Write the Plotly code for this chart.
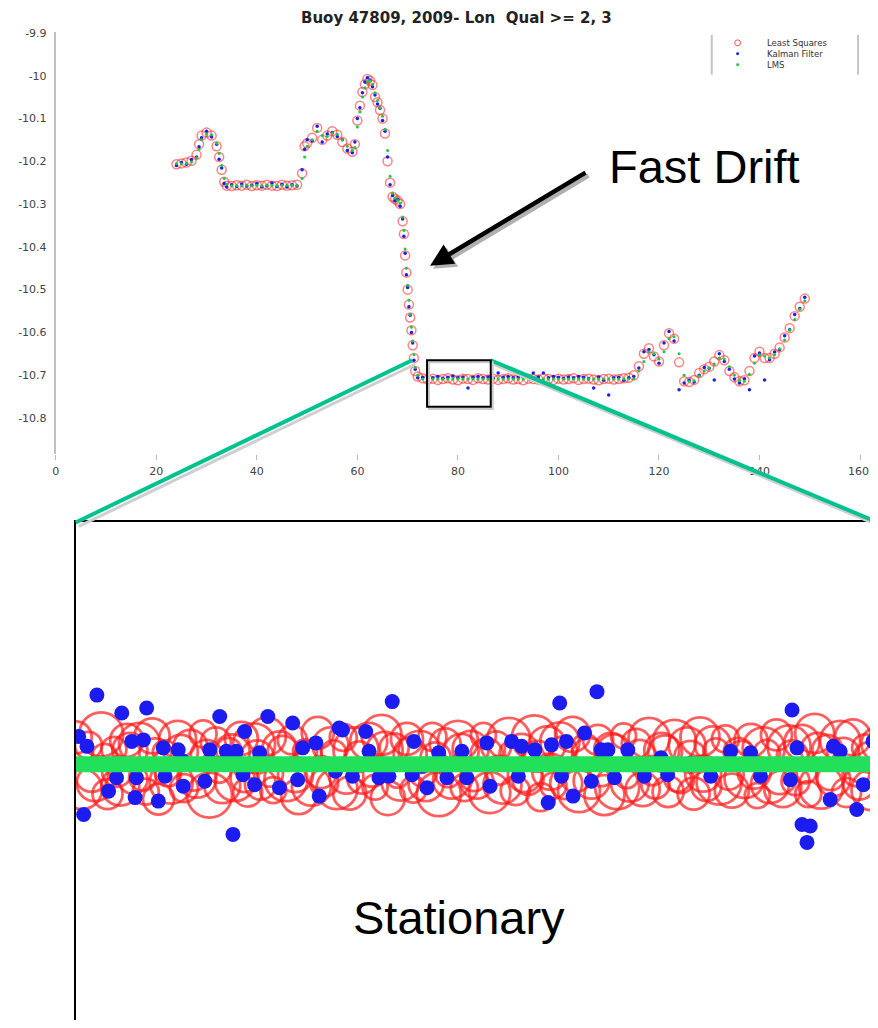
import plotly.graph_objects as go

# ---------------- data ----------------
main_t = [24, 25, 26, 27, 28, 28.5, 29, 30, 31, 32, 32.5, 33, 33.5, 34, 35, 36, 37, 38, 39, 40,
          41, 42, 43, 44, 45, 46, 47, 48, 49, 49.5, 50, 51, 52, 53, 54, 55, 56, 57, 58, 59,
          59.5, 60, 60.5, 61, 61.5, 62, 62.5, 63, 63.5, 64, 64.5, 65, 65.5, 66, 66.5, 67, 67.5, 68, 68.5, 69,
          69.25, 69.5, 69.75, 70, 70.25, 70.5, 70.75, 71, 71.25, 71.5, 72,
          73, 74, 75, 76, 77, 78, 79, 80, 81, 82, 83, 84, 85, 86, 87, 88, 89, 90, 91, 92,
          93, 94, 95, 96, 97, 98, 99, 100, 101, 102, 103, 104, 105, 106, 107, 108, 109, 110, 111, 112,
          113, 114, 115, 116, 117, 118, 119, 120, 121, 122, 123, 124, 125, 126, 127, 128, 129, 130, 131, 132,
          133, 134, 135, 136, 137, 138, 139, 140, 141, 142, 143, 144, 145, 146, 147, 148, 149]

least_squares = [-10.207, -10.205, -10.203, -10.199, -10.185, -10.160, -10.140, -10.133, -10.140, -10.165,
                 -10.190, -10.220, -10.248, -10.257, -10.258, -10.256, -10.257, -10.255, -10.258, -10.256,
                 -10.257, -10.255, -10.257, -10.258, -10.255, -10.257, -10.256, -10.255, -10.228, -10.165,
                 -10.158, -10.145, -10.122, -10.150, -10.140, -10.130, -10.138, -10.155, -10.170, -10.178,
                 -10.160, -10.105, -10.070, -10.038, -10.020, -10.008, -10.012, -10.022, -10.050, -10.062,
                 -10.080, -10.100, -10.135, -10.200, -10.250, -10.283, -10.288, -10.292, -10.300, -10.340,
                 -10.370, -10.420, -10.460, -10.500, -10.535, -10.565, -10.595, -10.630, -10.660, -10.690, -10.703,
                 -10.707, -10.710, -10.708, -10.711, -10.709, -10.707, -10.710, -10.712, -10.708, -10.709,
                 -10.711, -10.707, -10.709, -10.710, -10.708, -10.711, -10.709, -10.707, -10.710, -10.709,
                 -10.712, -10.708, -10.709, -10.710, -10.707, -10.709, -10.711, -10.708, -10.710, -10.709,
                 -10.707, -10.711, -10.709, -10.708, -10.710, -10.712, -10.709, -10.708, -10.710, -10.709,
                 -10.707, -10.706, -10.700,
                 -10.679, -10.650, -10.637, -10.656, -10.668, -10.630, -10.602, -10.615, -10.670, -10.714,
                 -10.716, -10.711, -10.695, -10.686, -10.680, -10.668, -10.653, -10.665, -10.690, -10.705,
                 -10.714, -10.712, -10.690, -10.660, -10.645, -10.660, -10.660, -10.650, -10.635, -10.612,
                 -10.590, -10.562, -10.540, -10.521]

kalman = [-10.210, -10.203, -10.207, -10.196, -10.190, -10.166, -10.145, -10.130, -10.143, -10.160,
          -10.195, -10.216, -10.252, -10.260, -10.255, -10.259, -10.253, -10.258, -10.256, -10.252,
          -10.260, -10.257, -10.251, -10.259, -10.254, -10.260, -10.255, -10.258, -10.220, -10.172,
          -10.150, -10.152, -10.118, -10.155, -10.136, -10.133, -10.142, -10.150, -10.175, -10.180,
          -10.155, -10.100, -10.075, -10.040, -10.015, -10.005, -10.010, -10.026, -10.045, -10.066,
          -10.076, -10.105, -10.130, -10.190, -10.255, -10.280, -10.292, -10.289, -10.305, -10.335,
          -10.375, -10.415, -10.465, -10.495, -10.540, -10.560, -10.600, -10.625, -10.665, -10.686, -10.706,
          -10.705, -10.704, -10.706, -10.703, -10.707, -10.705, -10.702, -10.706, -10.704, -10.730,
          -10.705, -10.703, -10.706, -10.704, -10.707, -10.695, -10.705, -10.703, -10.706, -10.704,
          -10.705, -10.707, -10.695, -10.704, -10.695, -10.706, -10.703, -10.705, -10.707, -10.704,
          -10.706, -10.703, -10.705, -10.708, -10.730, -10.704, -10.712, -10.746, -10.706, -10.705,
          -10.712, -10.706, -10.703,
          -10.683, -10.645, -10.640, -10.652, -10.672, -10.625, -10.598, -10.620, -10.734, -10.718,
          -10.712, -10.716, -10.700, -10.682, -10.684, -10.711, -10.650, -10.668, -10.686, -10.709,
          -10.718, -10.708, -10.734, -10.655, -10.648, -10.711, -10.664, -10.646, -10.640, -10.608,
          -10.594, -10.558, -10.544, -10.518]

lms = [-10.205, -10.206, -10.205, -10.202, -10.192, -10.172, -10.150, -10.136, -10.138, -10.158,
       -10.182, -10.210, -10.240, -10.254, -10.257, -10.257, -10.257, -10.256, -10.257, -10.256,
       -10.257, -10.256, -10.256, -10.257, -10.256, -10.256, -10.256, -10.256, -10.240, -10.190,
       -10.165, -10.150, -10.130, -10.140, -10.142, -10.134, -10.137, -10.150, -10.165, -10.175,
       -10.168, -10.120, -10.085, -10.050, -10.028, -10.014, -10.012, -10.020, -10.040, -10.058,
       -10.075, -10.095, -10.125, -10.175, -10.235, -10.275, -10.286, -10.291, -10.298, -10.330,
       -10.362, -10.405, -10.450, -10.490, -10.525, -10.558, -10.588, -10.620, -10.652, -10.682, -10.700,
       -10.709, -10.709, -10.709, -10.709, -10.709, -10.709, -10.709, -10.709, -10.709, -10.709,
       -10.709, -10.709, -10.709, -10.709, -10.709, -10.709, -10.709, -10.709, -10.709, -10.709,
       -10.709, -10.709, -10.709, -10.709, -10.709, -10.709, -10.709, -10.709, -10.709, -10.709,
       -10.709, -10.709, -10.709, -10.709, -10.709, -10.709, -10.709, -10.709, -10.709, -10.709,
       -10.709, -10.709, -10.708,
       -10.690, -10.668, -10.645, -10.650, -10.662, -10.645, -10.615, -10.610, -10.650, -10.700,
       -10.714, -10.713, -10.702, -10.690, -10.683, -10.674, -10.660, -10.662, -10.680, -10.700,
       -10.712, -10.714, -10.698, -10.672, -10.652, -10.655, -10.660, -10.652, -10.638, -10.618,
       -10.595, -10.570, -10.546, -10.526]

# magnified stationary window: finer samples
zoom_ls_t = [74.0, 74.1, 74.2, 74.3, 74.4, 74.5, 74.6, 74.7, 74.8, 74.9,
             75.0, 75.1, 75.2, 75.3, 75.4, 75.5, 75.6, 75.7, 75.8, 75.9,
             76.0, 76.1, 76.2, 76.3, 76.4, 76.5, 76.6, 76.7, 76.8, 76.9,
             77.0, 77.1, 77.2, 77.3, 77.4, 77.5, 77.6, 77.7, 77.8, 77.9,
             78.0, 78.1, 78.2, 78.3, 78.4, 78.5, 78.6, 78.7, 78.8, 78.9,
             79.0, 79.1, 79.2, 79.3, 79.4, 79.5, 79.6, 79.7, 79.8, 79.9,
             80.0, 80.1, 80.2, 80.3, 80.4, 80.5, 80.6, 80.7, 80.8, 80.9,
             81.0, 81.1, 81.2, 81.3, 81.4, 81.5, 81.6, 81.7, 81.8, 81.9,
             82.0, 82.1, 82.2, 82.3, 82.4, 82.5, 82.6, 82.7, 82.8, 82.9,
             83.0, 83.1, 83.2, 83.3, 83.4, 83.5, 83.6, 83.7, 83.8, 83.9,
             84.0, 84.1, 84.2, 84.3, 84.4, 84.5, 84.6, 84.7, 84.8, 84.9,
             85.0, 85.1, 85.2, 85.3, 85.4, 85.5, 85.6, 85.7, 85.8, 85.9,
             86.0, 86.1, 86.2, 86.3, 86.4, 86.5, 86.6]
zoom_ls = [-10.7036, -10.7140, -10.7052, -10.7128, -10.7030, -10.7150, -10.7060, -10.7135, -10.7042, -10.7120,
           -10.7048, -10.7145, -10.7033, -10.7160, -10.7066, -10.7126, -10.7040, -10.7138, -10.7055, -10.7118,
           -10.7029, -10.7152, -10.7046, -10.7132, -10.7062, -10.7124, -10.7038, -10.7146, -10.7050, -10.7130,
           -10.7034, -10.7142, -10.7058, -10.7121, -10.7041, -10.7155, -10.7064, -10.7134, -10.7027, -10.7127,
           -10.7052, -10.7139, -10.7036, -10.7148, -10.7061, -10.7119, -10.7044, -10.7136, -10.7031, -10.7158,
           -10.7057, -10.7125, -10.7039, -10.7141, -10.7065, -10.7129, -10.7035, -10.7150, -10.7049, -10.7122,
           -10.7043, -10.7137, -10.7059, -10.7126, -10.7032, -10.7147, -10.7054, -10.7131, -10.7040, -10.7143,
           -10.7063, -10.7120, -10.7037, -10.7156, -10.7051, -10.7133, -10.7045, -10.7128, -10.7030, -10.7144,
           -10.7056, -10.7123, -10.7041, -10.7152, -10.7060, -10.7136, -10.7033, -10.7127, -10.7048, -10.7140,
           -10.7038, -10.7131, -10.7062, -10.7145, -10.7044, -10.7122, -10.7053, -10.7149, -10.7035, -10.7134,
           -10.7050, -10.7126, -10.7039, -10.7143, -10.7066, -10.7118, -10.7042, -10.7153, -10.7058, -10.7130,
           -10.7031, -10.7139, -10.7055, -10.7124, -10.7046, -10.7150, -10.7028, -10.7135, -10.7061, -10.7121,
           -10.7043, -10.7147, -10.7036, -10.7129, -10.7057, -10.7141, -10.7049]
zoom_ls_err = [0.0032, 0.0040, 0.0027, 0.0036, 0.0044, 0.0030, 0.0025, 0.0038, 0.0033, 0.0029,
               0.0041, 0.0026, 0.0035, 0.0031, 0.0024, 0.0043, 0.0037, 0.0028, 0.0034, 0.0039,
               0.0027, 0.0045, 0.0030, 0.0036, 0.0025, 0.0040, 0.0033, 0.0029, 0.0042, 0.0031,
               0.0038, 0.0026, 0.0034, 0.0043, 0.0029, 0.0035, 0.0024, 0.0039, 0.0032, 0.0028,
               0.0036, 0.0041, 0.0027, 0.0033, 0.0045, 0.0030, 0.0037, 0.0025, 0.0040, 0.0034,
               0.0029, 0.0038, 0.0032, 0.0026, 0.0042, 0.0035, 0.0028, 0.0044, 0.0031, 0.0037,
               0.0040, 0.0027, 0.0036, 0.0033, 0.0025, 0.0041, 0.0030, 0.0038, 0.0043, 0.0029,
               0.0034, 0.0031, 0.0045, 0.0028, 0.0037, 0.0026, 0.0039, 0.0032, 0.0035, 0.0042,
               0.0027, 0.0036, 0.0030, 0.0040, 0.0033, 0.0044, 0.0025, 0.0038, 0.0029, 0.0034,
               0.0041, 0.0028, 0.0035, 0.0031, 0.0043, 0.0026, 0.0037, 0.0032, 0.0039, 0.0030,
               0.0036, 0.0045, 0.0027, 0.0034, 0.0029, 0.0040, 0.0033, 0.0025, 0.0042, 0.0038,
               0.0031, 0.0037, 0.0043, 0.0028, 0.0035, 0.0026, 0.0039, 0.0044, 0.0030, 0.0033,
               0.0040, 0.0029, 0.0036, 0.0032, 0.0027, 0.0041, 0.0034]

zoom_ls_mid_t = [74.05, 74.25, 74.45, 74.65, 74.85, 75.05, 75.25, 75.45, 75.65, 75.85,
                 76.05, 76.25, 76.45, 76.65, 76.85, 77.05, 77.25, 77.45, 77.65, 77.85,
                 78.05, 78.25, 78.45, 78.65, 78.85, 79.05, 79.25, 79.45, 79.65, 79.85,
                 80.05, 80.25, 80.45, 80.65, 80.85, 81.05, 81.25, 81.45, 81.65, 81.85,
                 82.05, 82.25, 82.45, 82.65, 82.85, 83.05, 83.25, 83.45, 83.65, 83.85,
                 84.05, 84.25, 84.45, 84.65, 84.85, 85.05, 85.25, 85.45, 85.65, 85.85,
                 86.05, 86.25, 86.45]
zoom_ls_mid = [-10.7068, -10.7112, -10.7074, -10.7105, -10.7062, -10.7116, -10.7070, -10.7108, -10.7065, -10.7114,
               -10.7072, -10.7103, -10.7066, -10.7118, -10.7075, -10.7109, -10.7063, -10.7111, -10.7071, -10.7106,
               -10.7067, -10.7115, -10.7073, -10.7104, -10.7061, -10.7113, -10.7069, -10.7107, -10.7076, -10.7110,
               -10.7064, -10.7117, -10.7070, -10.7102, -10.7068, -10.7112, -10.7074, -10.7105, -10.7062, -10.7116,
               -10.7070, -10.7108, -10.7065, -10.7114, -10.7072, -10.7103, -10.7066, -10.7118, -10.7075, -10.7109,
               -10.7063, -10.7111, -10.7071, -10.7106, -10.7067, -10.7115, -10.7073, -10.7104, -10.7061, -10.7113,
               -10.7069, -10.7107, -10.7076]
zoom_ls_mid_err = [0.0028, 0.0033, 0.0025, 0.0030, 0.0035, 0.0027, 0.0032, 0.0026, 0.0034, 0.0029,
                   0.0031, 0.0024, 0.0036, 0.0028, 0.0033, 0.0026, 0.0030, 0.0035, 0.0027, 0.0032,
                   0.0025, 0.0034, 0.0029, 0.0031, 0.0036, 0.0024, 0.0033, 0.0028, 0.0030, 0.0026,
                   0.0035, 0.0027, 0.0032, 0.0029, 0.0025, 0.0034, 0.0031, 0.0036, 0.0028, 0.0030,
                   0.0033, 0.0026, 0.0035, 0.0024, 0.0031, 0.0029, 0.0034, 0.0027, 0.0032, 0.0036,
                   0.0025, 0.0030, 0.0028, 0.0033, 0.0026, 0.0035, 0.0031, 0.0024, 0.0034, 0.0029,
                   0.0032, 0.0027, 0.0030]

zoom_kf_t = [74.333, 74.723, 75.114, 76.261, 77.016, 76.652, 77.406, 78.136, 74.047, 74.177,
             74.880, 75.063, 75.375, 75.609, 76.105, 76.364, 76.520, 76.886, 77.563, 77.770,
             74.516, 74.125, 74.933, 75.297, 75.688, 76.027, 76.808, 77.198, 77.484, 77.823,
             76.469, 74.641, 74.953, 75.402, 76.625, 78.078,
             78.969, 81.598, 82.183, 78.188, 78.552, 79.308, 80.453, 80.844, 81.000, 81.208,
             81.469, 81.703, 81.989, 78.605, 79.698, 80.063, 82.250, 78.344, 78.761, 78.917,
             79.516, 79.828, 80.141, 80.505, 80.948, 81.417, 81.625, 81.808, 82.094, 79.281,
             85.245, 82.355, 82.667, 83.188, 84.281, 84.594, 85.323, 85.895, 86.000, 82.458,
             82.927, 83.292, 83.969, 84.750, 85.219, 85.844, 86.261, 86.364, 85.402, 85.531,
             85.480, 86.516, 75.688, 79.438, 83.656]
zoom_kf = [-10.6951, -10.6987, -10.6977, -10.6994, -10.6994, -10.7024, -10.7007, -10.7017, -10.7034, -10.7054,
           -10.7044, -10.7041, -10.7057, -10.7061, -10.7061, -10.7064, -10.7064, -10.7067, -10.7057, -10.7047,
           -10.7144, -10.7191, -10.7157, -10.7164, -10.7134, -10.7124, -10.7131, -10.7137, -10.7121, -10.7154,
           -10.7231, -10.7117, -10.7117, -10.7114, -10.7111, -10.7104,
           -10.6964, -10.6967, -10.6944, -10.7021, -10.7024, -10.7044, -10.7047, -10.7044, -10.7054, -10.7061,
           -10.7051, -10.7044, -10.7027, -10.7064, -10.7067, -10.7064, -10.7061, -10.7114, -10.7117, -10.7114,
           -10.7137, -10.7117, -10.7117, -10.7134, -10.7114, -10.7167, -10.7114, -10.7154, -10.7124, -10.7111,
           -10.6981, -10.7061, -10.7061, -10.7077, -10.7064, -10.7067, -10.7057, -10.7054, -10.7064, -10.7117,
           -10.7114, -10.7111, -10.7114, -10.7114, -10.7121, -10.7161, -10.7181, -10.7131, -10.7211, -10.7214,
           -10.7247, -10.7044, -10.7084, -10.7094, -10.7088]

x_ticks = [0, 20, 40, 60, 80, 100, 120, 140, 160]
y_ticks = [-9.9, -10.0, -10.1, -10.2, -10.3, -10.4, -10.5, -10.6, -10.7, -10.8]
y_ticktext = ["-9.9", "-10", "-10.1", "-10.2", "-10.3", "-10.4", "-10.5", "-10.6", "-10.7", "-10.8"]
legend_names = ["Least Squares", "Kalman Filter", "LMS"]
title_text = "Buoy 47809, 2009- Lon  Qual >= 2, 3"
window_t = [73.86, 86.53]
window_lon = [-10.774, -10.665]

# ---------------- layout helpers ----------------
# the page body adds an 8px margin on every side; the figure is sized so the
# page does not overflow, and every position below is given in window pixels
OFF = 8
W, H = 878 - 2 * OFF, 1028 - 2 * OFF
FONT = "Liberation Sans, Arial, sans-serif"
SMALL = "DejaVu Sans, sans-serif"
RED = "#ff1a1a"
BLUE = "#1c1cf0"
GREEN = "#22e05a"
TEAL = "#00c28f"


def px(x):
    return (x - OFF) / W


def py(y):
    return 1 - (y - OFF) / H


ZOOM_TOP, ZOOM_BOTTOM = 520, 1020
zoom_xrange = [74.0, 86.469]
zoom_yrange = [-10.7604, -10.6604]
px_per_lon = (ZOOM_BOTTOM - ZOOM_TOP) / (zoom_yrange[1] - zoom_yrange[0])

fig = go.Figure()

# main panel
fig.add_trace(go.Scatter(x=main_t, y=least_squares, mode="markers", name=legend_names[0],
                         marker=dict(symbol="circle-open", size=9, color="rgba(255,30,30,0.55)",
                                     line=dict(width=1.5)),
                         xaxis="x", yaxis="y", showlegend=False))
fig.add_trace(go.Scatter(x=main_t, y=kalman, mode="markers", name=legend_names[1],
                         marker=dict(size=3.5, color=BLUE), xaxis="x", yaxis="y", showlegend=False))
fig.add_trace(go.Scatter(x=main_t, y=lms, mode="markers", name=legend_names[2],
                         marker=dict(size=3, color="#10d040"), xaxis="x", yaxis="y", showlegend=False))

# zoom panel
fig.add_trace(go.Scatter(x=zoom_ls_mid_t, y=zoom_ls_mid, mode="markers", showlegend=False,
                         marker=dict(symbol="circle-open", color=RED,
                                     size=[2 * e * px_per_lon for e in zoom_ls_mid_err],
                                     line=dict(width=2.8)),
                         xaxis="x2", yaxis="y2"))
fig.add_trace(go.Scatter(x=zoom_ls_t, y=zoom_ls, mode="markers", showlegend=False,
                         marker=dict(symbol="circle-open", color=RED,
                                     size=[2 * e * px_per_lon for e in zoom_ls_err],
                                     line=dict(width=2.8)),
                         xaxis="x2", yaxis="y2"))
fig.add_trace(go.Scatter(x=zoom_kf_t, y=zoom_kf, mode="markers", showlegend=False,
                         marker=dict(size=15, color=BLUE), xaxis="x2", yaxis="y2"))
zt = [t for t in main_t if 72 <= t <= 88]
zl = [v for t, v in zip(main_t, lms) if 72 <= t <= 88]
fig.add_trace(go.Scatter(x=zt, y=zl, mode="lines", showlegend=False,
                         line=dict(color=GREEN, width=16), xaxis="x2", yaxis="y2"))

shapes = []
# teal guide lines with soft gray shadow
for (x0, y0, x1, y1) in [(410, 357, 72, 520), (489, 357, 878, 520)]:
    shapes.append(dict(type="line", xref="paper", yref="paper",
                       x0=px(x0 + 3), y0=py(y0 + 4), x1=px(x1 + 3), y1=py(y1 + 4),
                       line=dict(color="#cfcfcf", width=3)))
    shapes.append(dict(type="line", xref="paper", yref="paper",
                       x0=px(x0), y0=py(y0), x1=px(x1), y1=py(y1),
                       line=dict(color=TEAL, width=4)))
# window rectangle (shadow + black)
shapes.append(dict(type="rect", xref="x", yref="y",
                   x0=window_t[0] + 0.4, x1=window_t[1] + 0.4,
                   y0=window_lon[0] - 0.0047, y1=window_lon[1] - 0.0047,
                   line=dict(color="#cccccc", width=2)))
shapes.append(dict(type="rect", xref="x", yref="y",
                   x0=window_t[0], x1=window_t[1], y0=window_lon[0], y1=window_lon[1],
                   line=dict(color="black", width=2)))
# legend frame
for lx in (711, 858):
    shapes.append(dict(type="line", xref="paper", yref="paper",
                       x0=px(lx), x1=px(lx), y0=py(30), y1=py(70),
                       line=dict(color="#c4c4c4", width=2)))
# legend symbols
LEG_Y = [38, 49, 60]
shapes.append(dict(type="circle", xref="paper", yref="paper",
                   x0=px(734), x1=px(740), y0=py(LEG_Y[0] + 3), y1=py(LEG_Y[0] - 3),
                   line=dict(color="rgba(255,30,30,0.75)", width=1)))
shapes.append(dict(type="circle", xref="paper", yref="paper",
                   x0=px(735.5), x1=px(738.5), y0=py(LEG_Y[1] + 1.5), y1=py(LEG_Y[1] - 1.5),
                   fillcolor=BLUE, line=dict(color=BLUE, width=0)))
shapes.append(dict(type="circle", xref="paper", yref="paper",
                   x0=px(735.5), x1=px(738.5), y0=py(LEG_Y[2] + 1.5), y1=py(LEG_Y[2] - 1.5),
                   fillcolor="#10d040", line=dict(color="#10d040", width=0)))

annotations = []
annotations.append(dict(text="<b>" + title_text + "</b>", x=px(455), y=py(13), xref="paper", yref="paper",
                        showarrow=False, font=dict(family=SMALL, size=15, color="#222"),
                        xanchor="center", yanchor="middle"))
for name, yy in zip(legend_names, LEG_Y):
    annotations.append(dict(text=name, x=px(765), y=py(yy), xref="paper", yref="paper",
                            showarrow=False, font=dict(family=SMALL, size=8.5, color="#333"),
                            xanchor="left", yanchor="middle"))
# last x tick label sits against the right edge; right-anchored so it stays inside the page
annotations.append(dict(text=str(x_ticks[-1]), x=px(870), y=py(469), xref="paper", yref="paper",
                        showarrow=False, font=dict(family=SMALL, size=11, color="#444"),
                        xanchor="right", yanchor="middle", borderpad=0))
# arrow with shadow
for dx, dy, col in [(3, 3, "#b0b0b0"), (0, 0, "black")]:
    annotations.append(dict(text="", x=px(428 + dx), y=py(262 + dy), xref="paper", yref="paper",
                            ax=157, ay=-94, showarrow=True, arrowhead=2, arrowsize=1,
                            arrowwidth=4.5, arrowcolor=col))
annotations.append(dict(text="Fast Drift", x=px(606), y=py(162), xref="paper", yref="paper",
                        showarrow=False, font=dict(family=FONT, size=47, color="black"),
                        xanchor="left", yanchor="middle"))
annotations.append(dict(text="Stationary", x=px(457), y=py(917), xref="paper", yref="paper",
                        showarrow=False, font=dict(family=FONT, size=47, color="black"),
                        xanchor="center", yanchor="middle"))

ymain_top, ymain_bot = 27, 451
fig.update_layout(
    width=W, height=H,
    margin=dict(l=0, r=0, t=0, b=0),
    paper_bgcolor="white", plot_bgcolor="rgba(0,0,0,0)",
    showlegend=False,
    font=dict(family=FONT),
    xaxis=dict(domain=[px(52), px(860)], range=[0, 160], anchor="y",
               tickvals=x_ticks, ticktext=[str(v) for v in x_ticks[:-1]] + [""],
               ticks="outside", ticklen=5, tickcolor="#bbbbbb", tickwidth=1,
               showline=False, showgrid=False, zeroline=False,
               tickfont=dict(family=SMALL, size=11, color="#444"), ticklabelstandoff=2),
    yaxis=dict(domain=[py(ymain_bot), py(ymain_top)],
               range=[-9.9 - (ymain_bot - 28) / 430, -9.9 - (ymain_top - 28) / 430],
               anchor="x", tickvals=y_ticks, ticktext=y_ticktext,
               ticks="", showline=True, linecolor="#c0c0c0", linewidth=2,
               showgrid=False, zeroline=False, tickfont=dict(family=SMALL, size=11, color="#444"),
               ticklabelstandoff=5),
    xaxis2=dict(domain=[px(72), 1], range=zoom_xrange, anchor="y2", side="top",
                showline=True, linecolor="black", linewidth=2, ticks="",
                showticklabels=False, showgrid=False, zeroline=False),
    yaxis2=dict(domain=[0, py(ZOOM_TOP)], range=zoom_yrange, anchor="x2",
                showline=True, linecolor="black", linewidth=2, ticks="",
                showticklabels=False, showgrid=False, zeroline=False),
    shapes=shapes,
    annotations=annotations,
)

fig.write_html("out.html")
